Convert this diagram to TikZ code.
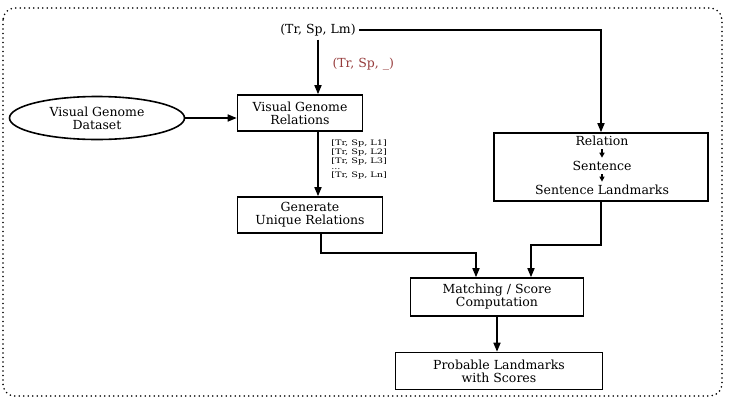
\documentclass[tikz,border=0pt]{standalone}
\usepackage{fontspec}
\setmainfont{DejaVu Serif}
\usetikzlibrary{positioning, shapes, arrows.meta, calc}

\definecolor{labelred}{RGB}{150,60,60}

\begin{document}
\begin{tikzpicture}[x=1pt, y=-1pt, font=\fontsize{12.5}{13}\selectfont,
    box/.style={draw, line width=1.6pt, align=center, inner sep=0pt},
    flow/.style={-{Triangle[length=9pt, width=7pt]}, line width=1.6pt},
    small/.style={font=\fontsize{7.5}{8.6}\selectfont, align=left, inner sep=0pt}]
  \useasboundingbox (0,0) rectangle (729,400);
  \draw[line width=1.8pt, line cap=round, dash pattern=on 0pt off 4.5pt, rounded corners=12pt] (3,8) rectangle (722,396);

  % input triple and dataset
  \node (lm) at (318,30) {(Tr, Sp, Lm)};
  \node[labelred, anchor=west] (blank) at (329,64) {(Tr, Sp, \_)};
  \node[draw, ellipse, line width=1.6pt, minimum width=175, minimum height=43, align=center, inner sep=0pt] (vgd) at (97,118) {Visual Genome\\Dataset};

  % left column
  \node[box, minimum width=125, minimum height=36] (vgr) at (300,113) {Visual Genome\\Relations};
  \coordinate (listpos) at (331,140);
  \node[small, anchor=north west, xscale=1.3, transform shape] (list) at (listpos) {{[}Tr, Sp, L1]\\ {[}Tr, Sp, L2]\\ {[}Tr, Sp, L3]\\[-2pt] ...\\[-1pt] {[}Tr, Sp, Ln]};
  \node[box, minimum width=145, minimum height=36] (gur) at (310,215) {Generate\\Unique Relations};

  % right column
  \node[box, minimum width=214, minimum height=68] (rel) at (601,167) {};
  \node (r1) at (602,141) {Relation};
  \node (r2) at (602,166) {Sentence};
  \node (r3) at (602,190) {Sentence Landmarks};
  \draw[-{Triangle[length=5pt, width=5pt]}, line width=1.2pt] (r1.south) -- (r2.north);
  \draw[-{Triangle[length=5pt, width=5pt]}, line width=1.2pt] (r2.south) -- (r3.north);

  % output
  \node[box, minimum width=173, minimum height=38] (msc) at (497,297) {Matching / Score\\Computation};
  \node[box, minimum width=207, minimum height=37] (plw) at (499,371) {Probable Landmarks\\with Scores};

  % connectors
  \draw[flow] (lm.south) -- (lm.south |- vgr.north);
  \draw[flow] (lm.east) -| (rel.north);
  \draw[flow] (vgd.east) -- (vgd.east -| vgr.west);
  \draw[flow] (vgr.south -| lm) -- (gur.north -| lm);
  \draw[flow] ([xshift=11pt]gur.south) -- ++(0,19) -| ([xshift=-21pt]msc.north);
  \draw[flow] (rel.south) -- ++(0,43) -| ([xshift=34pt]msc.north);
  \draw[flow] (msc.south) -- (msc.south |- plw.north);
\end{tikzpicture}
\end{document}
